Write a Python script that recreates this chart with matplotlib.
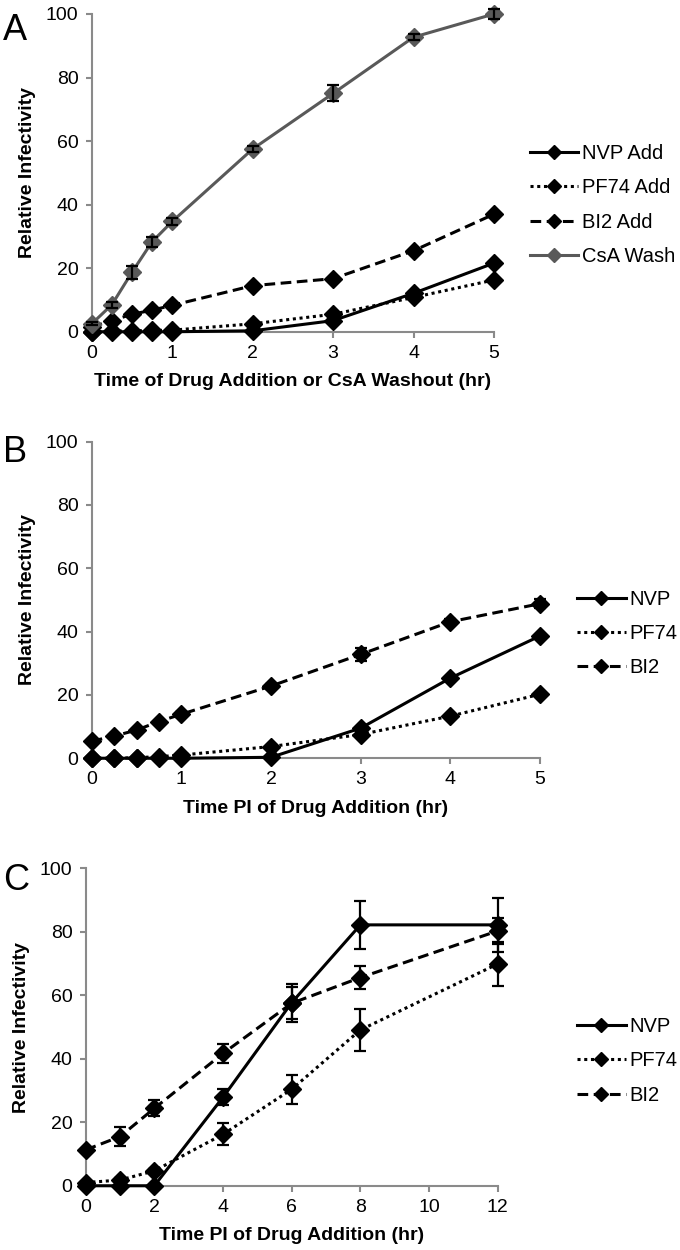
import matplotlib
matplotlib.use('Agg')
import matplotlib.pyplot as plt
import numpy as np

plt.rcParams['font.family'] = ['Liberation Sans', 'DejaVu Sans']

# Panel A - time of drug addition / CsA washout
a_time = [0, 0.25, 0.5, 0.75, 1, 2, 3, 4, 5]
a_nvp = [0, 0, 0, 0, 0, 0.3, 3.5, 12.1, 21.6]
a_pf74 = [0, 0.2, 0.3, 0.4, 0.5, 2.5, 5.5, 10.8, 16.3]
a_bi2 = [1.5, 3.5, 5.5, 6.8, 8.3, 14.5, 16.7, 25.5, 37.0]
a_csa = [2.5, 8.5, 18.7, 28.3, 34.7, 57.5, 75.0, 92.7, 100.0]
a_csa_err = [0.5, 1.0, 2.0, 1.5, 1.0, 1.0, 2.5, 1.0, 1.5]

# Panel B - time post infection of drug addition
b_time = [0, 0.25, 0.5, 0.75, 1, 2, 3, 4, 5]
b_nvp = [0, 0, 0, 0, 0, 0.3, 9.5, 25.3, 38.6]
b_pf74 = [0, 0, 0.2, 0.5, 1.0, 3.7, 7.5, 13.3, 20.2]
b_bi2 = [5.4, 7.0, 8.9, 11.6, 13.9, 22.8, 32.8, 43.1, 48.8]
b_bi2_err = [0, 0, 0, 0, 0.8, 0.8, 2.0, 0.8, 1.5]

# Panel C - longer time course
c_time = [0, 1, 2, 4, 6, 8, 12]
c_nvp = [0, 0, 0, 27.9, 57.7, 82.2, 82.2]
c_nvp_err = [0, 0, 0, 2.5, 6.0, 7.5, 8.5]
c_pf74 = [1.0, 1.8, 4.7, 16.2, 30.4, 49.1, 69.9]
c_pf74_err = [0, 0.5, 0.5, 3.5, 4.5, 6.5, 7.0]
c_bi2 = [11.3, 15.5, 24.4, 41.7, 57.5, 65.6, 80.3]
c_bi2_err = [0, 3.0, 2.5, 3.0, 5.0, 3.5, 4.0]

SPINE = '#8a8a8a'
GREY = '#595959'
styles = {'solid': '-', 'dot': (0, (1, 1.2)), 'dash': (0, (3.5, 1.8))}


def style_axes(ax, xmax, xticks):
    for s in ['top', 'right']:
        ax.spines[s].set_visible(False)
    for s in ['left', 'bottom']:
        ax.spines[s].set_color(SPINE)
        ax.spines[s].set_linewidth(1.5)
    ax.set_xlim(0, xmax)
    ax.set_ylim(0, 100)
    ax.set_xticks(xticks)
    ax.set_yticks(range(0, 101, 20))
    ax.tick_params(axis='both', direction='out', length=4.5, width=1.5,
                   color=SPINE, labelsize=14, pad=5)
    ax.set_ylabel('Relative Infectivity', fontsize=14, fontweight='bold', labelpad=7)


def draw(ax, x, y, ls, label, color='black', err=None):
    ax.plot(x, y, linestyle=ls, color=color, lw=2.2, marker='D', ms=9,
            mfc=color, mec=color, label=label, clip_on=False, zorder=3)
    if err is not None:
        ax.errorbar(x, y, yerr=err, fmt='none', ecolor='black', elinewidth=1.6,
                    capsize=4, capthick=1.6, clip_on=False, zorder=4)


def add_legend(ax, pos):
    ax.legend(loc='center left', bbox_to_anchor=pos, bbox_transform=fig.transFigure,
              frameon=False, fontsize=14.5, handlelength=2.4, handletextpad=0.2,
              labelspacing=0.75, borderaxespad=0, borderpad=0, markerscale=0.8)


fig = plt.figure(figsize=(6.8, 12.5), dpi=100)

# ---- A ----
axA = fig.add_axes([0.1349, 0.7346, 0.5915, 0.2542])
draw(axA, a_time, a_nvp, styles['solid'], 'NVP Add')
draw(axA, a_time, a_pf74, styles['dot'], 'PF74 Add')
draw(axA, a_time, a_bi2, styles['dash'], 'BI2 Add')
draw(axA, a_time, a_csa, styles['solid'], 'CsA Wash', color=GREY, err=a_csa_err)
style_axes(axA, 5, range(0, 6))
axA.set_xlabel('Time of Drug Addition or CsA Washout (hr)', fontsize=14,
               fontweight='bold', labelpad=8)
add_legend(axA, (0.779, 0.836))

# ---- B ----
axB = fig.add_axes([0.1349, 0.3934, 0.659, 0.2533])
draw(axB, b_time, b_nvp, styles['solid'], 'NVP')
draw(axB, b_time, b_pf74, styles['dot'], 'PF74')
draw(axB, b_time, b_bi2, styles['dash'], 'BI2', err=b_bi2_err)
style_axes(axB, 5, range(0, 6))
axB.set_xlabel('Time PI of Drug Addition (hr)', fontsize=14, fontweight='bold', labelpad=8)
add_legend(axB, (0.849, 0.4932))

# ---- C ----
axC = fig.add_axes([0.126, 0.0514, 0.606, 0.2539])
draw(axC, c_time, c_nvp, styles['solid'], 'NVP', err=c_nvp_err)
draw(axC, c_time, c_pf74, styles['dot'], 'PF74', err=c_pf74_err)
draw(axC, c_time, c_bi2, styles['dash'], 'BI2', err=c_bi2_err)
style_axes(axC, 12, range(0, 13, 2))
axC.set_xlabel('Time PI of Drug Addition (hr)', fontsize=14, fontweight='bold', labelpad=8)
add_legend(axC, (0.849, 0.1512))

for lab, yy in [('A', 0.99), ('B', 0.652), ('C', 0.31)]:
    fig.text(0.004, yy, lab, fontsize=26, va='top', ha='left')

fig.savefig('out.png', dpi=100)
